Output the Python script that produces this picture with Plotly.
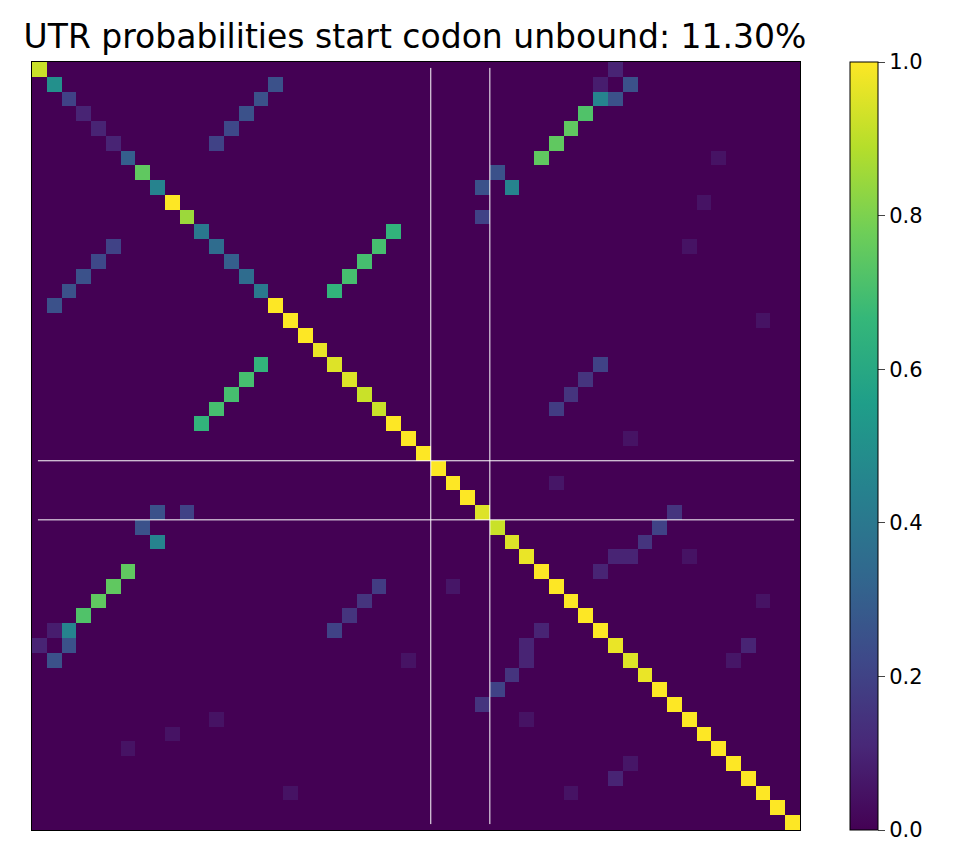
import numpy as np
import plotly.graph_objects as go

N = 52
diag = [0.92,0.5,0.2,0.1,0.1,0.1,0.3,0.75,0.45,1.0,0.85,0.4,0.35,0.3,0.35,0.4,
        1.0,1.0,1.0,0.97,0.95,0.95,0.92,0.92,1.0,1.0,1.0,1.0,1.0,1.0,0.95,0.92,
        0.95,0.97,1.0,1.0,1.0,1.0,1.0,0.97,0.95,0.97,1.0,1.0,1.0,1.0,1.0,1.0,1.0,1.0,1.0,1.0]
pair_i = [1,2,3,4,5, 0,1,1,2,2,3,4,5,6, 7,8,8,10, 11,12,13,14,15, 20,21,22,23,
          30,31,32,33,33,34, 39,40,33,6,9,12,17,25,28,36]
pair_j = [16,15,14,13,12, 39,38,40,38,39,37,36,35,34, 31,30,32,30, 24,23,22,21,20, 38,37,36,35,
          43,42,41,40,39,38, 48,47,44,46,45,44,49,40,35,49]
pair_p = [0.25,0.25,0.25,0.22,0.2, 0.1,0.08,0.25,0.45,0.25,0.72,0.75,0.75,0.75,
          0.25,0.25,0.45,0.2, 0.65,0.7,0.7,0.7,0.65, 0.2,0.15,0.15,0.18,
          0.15,0.2,0.15,0.1,0.1,0.1, 0.1,0.06,0.05,0.05,0.05,0.05,0.05,0.05,0.06,0.05]

Z = np.zeros((N, N))
for k in range(N):
    Z[k, k] = diag[k]
for i, j, p in zip(pair_i, pair_j, pair_p):
    Z[i, j] = p
    Z[j, i] = p

fig = go.Figure(go.Heatmap(
    z=Z, colorscale="Viridis", zmin=0, zmax=1,
    colorbar=dict(x=818/941, xanchor="left", xpad=0, len=1, lenmode="fraction", y=0.5, ypad=0,
                  thickness=28, outlinecolor="black", outlinewidth=1,
                  tickvals=[0,0.2,0.4,0.6,0.8,1.0], ticktext=["0.0","0.2","0.4","0.6","0.8","1.0"],
                  ticks="outside", ticklen=7, tickfont=dict(size=21, color="black"))))

for v in [26.5, 30.5]:
    fig.add_shape(type="line", x0=v, x1=v, y0=-0.1, y1=51.1, line=dict(color="white", width=1))
    fig.add_shape(type="line", y0=v, y1=v, x0=-0.1, x1=51.1, line=dict(color="white", width=1))

fig.update_layout(
    width=973, height=867, paper_bgcolor="white", plot_bgcolor="white",
    margin=dict(l=24, r=8, t=54, b=45),
    title=dict(text="UTR probabilities start codon unbound: 11.30%", x=407/973, xanchor="center",
               y=1-28/867, yanchor="middle", font=dict(size=33, color="black", family="DejaVu Sans")),
    font=dict(family="DejaVu Sans"),
    xaxis=dict(domain=[0, 768/941], range=[-0.5, 51.5], showticklabels=False, showgrid=False,
               zeroline=False, showline=True, mirror=True, linecolor="black", linewidth=1, ticks=""),
    yaxis=dict(range=[51.5, -0.5], showticklabels=False, showgrid=False, zeroline=False,
               showline=True, mirror=True, linecolor="black", linewidth=1, ticks=""),
)
fig.write_html("out.html")
